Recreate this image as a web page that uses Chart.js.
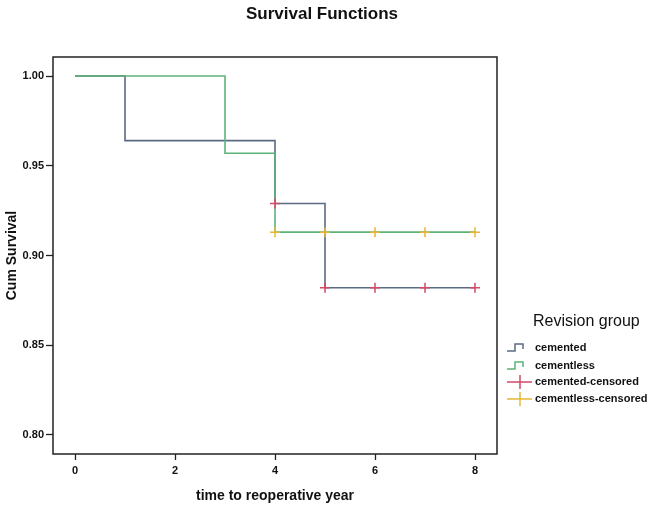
<!DOCTYPE html>
<html>
<head>
<meta charset="utf-8">
<script src="https://cdn.jsdelivr.net/npm/chart.js@4"></script>
<style>
  html, body { margin: 0; padding: 0; background: #fff; }
  #wrap { width: 670px; height: 509px; }
</style>
</head>
<body>
<div id="wrap"><canvas id="survivalChart"></canvas></div>
<script>
// Kaplan-Meier steps
const cementedTimes = [0, 1, 4, 5, 8];
const cementedSurvival = [1.0, 0.964, 0.929, 0.882, 0.882];
const cementlessTimes = [0, 3, 4, 8];
const cementlessSurvival = [1.0, 0.957, 0.913, 0.913];

// censored observations
const cementedCensTimes = [4, 5, 6, 7, 8];
const cementedCensSurvival = [0.929, 0.882, 0.882, 0.882, 0.882];
const cementlessCensTimes = [4, 5, 6, 7, 8];
const cementlessCensSurvival = [0.913, 0.913, 0.913, 0.913, 0.913];

const xTicks = [0, 2, 4, 6, 8];
const yTicks = [0.80, 0.85, 0.90, 0.95, 1.00];
const groupLabels = ["cemented", "cementless", "cemented-censored", "cementless-censored"];

const colors = ["#5b6a83", "#5cb37a", "#d44a66", "#e8b636"];

function toPoints(xs, ys) {
    return xs.map((x, i) => ({ x: x, y: ys[i] }));
}

// box around plot, title and legend
const framePlugin = {
    id: "frame",
    afterDraw(chart) {
        const ctx = chart.ctx;
        const a = chart.chartArea;
        ctx.save();
        ctx.strokeStyle = "#222";
        ctx.lineWidth = 1.5;
        ctx.strokeRect(a.left, a.top, a.right - a.left, a.bottom - a.top);

        ctx.fillStyle = "#111";
        ctx.textAlign = "center";
        ctx.textBaseline = "middle";
        ctx.font = "bold 17px 'Liberation Sans', Arial, sans-serif";
        ctx.fillText("Survival Functions", 322, 14);

        ctx.textAlign = "left";
        ctx.font = "16px 'Liberation Sans', Arial, sans-serif";
        ctx.fillText("Revision group", 533, 322);

        const rows = [348, 366, 382, 399];
        ctx.font = "bold 11px 'Liberation Sans', Arial, sans-serif";
        groupLabels.forEach((label, i) => {
            const y = rows[i];
            ctx.strokeStyle = colors[i];
            ctx.lineWidth = 1.5;
            ctx.beginPath();
            if (i < 2) {
                ctx.moveTo(507, y + 3);
                ctx.lineTo(515, y + 3);
                ctx.lineTo(515, y - 4);
                ctx.lineTo(523, y - 4);
                ctx.lineTo(523, y + 1);
            } else {
                ctx.moveTo(507, y);
                ctx.lineTo(532, y);
                ctx.moveTo(520, y - 7);
                ctx.lineTo(520, y + 7);
            }
            ctx.stroke();
            ctx.fillStyle = "#111";
            ctx.fillText(label, 535, y);
        });
        ctx.restore();
    }
};

const tickFont = { family: "'Liberation Sans', Arial, sans-serif", size: 11, weight: "bold" };
const titleFont = { family: "'Liberation Sans', Arial, sans-serif", size: 14, weight: "bold" };

new Chart(document.getElementById("survivalChart").getContext("2d"), {
    type: "line",
    data: {
        datasets: [{
            label: groupLabels[0],
            data: toPoints(cementedTimes, cementedSurvival),
            borderColor: colors[0],
            borderWidth: 1.6,
            stepped: true,
            pointRadius: 0,
            fill: false,
            order: 3
        }, {
            label: groupLabels[1],
            data: toPoints(cementlessTimes, cementlessSurvival),
            borderColor: colors[1],
            borderWidth: 1.6,
            stepped: true,
            pointRadius: 0,
            fill: false,
            order: 2
        }, {
            label: groupLabels[2],
            data: toPoints(cementedCensTimes, cementedCensSurvival),
            borderColor: colors[2],
            showLine: false,
            pointStyle: "cross",
            pointRadius: 5,
            pointBorderWidth: 1.5,
            order: 1
        }, {
            label: groupLabels[3],
            data: toPoints(cementlessCensTimes, cementlessCensSurvival),
            borderColor: colors[3],
            showLine: false,
            pointStyle: "cross",
            pointRadius: 5,
            pointBorderWidth: 1.5,
            order: 0
        }]
    },
    options: {
        responsive: true,
        maintainAspectRatio: false,
        animation: false,
        layout: { padding: { left: 0, top: 57, right: 173, bottom: 0 } },
        plugins: {
            legend: { display: false },
            tooltip: { enabled: false }
        },
        scales: {
            x: {
                type: "linear",
                min: -0.44,
                max: 8.44,
                afterBuildTicks: (axis) => { axis.ticks = xTicks.map(v => ({ value: v })); },
                afterFit: (axis) => { axis.height = 55; },
                grid: { display: true, drawOnChartArea: false, drawTicks: true, tickLength: 6, tickColor: "#222", tickWidth: 1.3 },
                border: { display: false },
                ticks: { color: "#111", font: tickFont, padding: 4, maxRotation: 0 },
                title: { display: true, text: "time to reoperative year", color: "#111", font: titleFont, padding: { top: 10 } }
            },
            y: {
                type: "linear",
                min: 0.7894,
                max: 1.0106,
                afterBuildTicks: (axis) => { axis.ticks = yTicks.map(v => ({ value: v })); },
                afterFit: (axis) => { axis.width = 53; },
                grid: { display: true, drawOnChartArea: false, drawTicks: true, tickLength: 7, tickColor: "#222", tickWidth: 1.3 },
                border: { display: false },
                ticks: { color: "#111", font: tickFont, padding: 2, callback: (v) => v.toFixed(2) },
                title: { display: true, text: "Cum Survival", color: "#111", font: titleFont, padding: { bottom: 0 } }
            }
        }
    },
    plugins: [framePlugin]
});
</script>
</body>
</html>
